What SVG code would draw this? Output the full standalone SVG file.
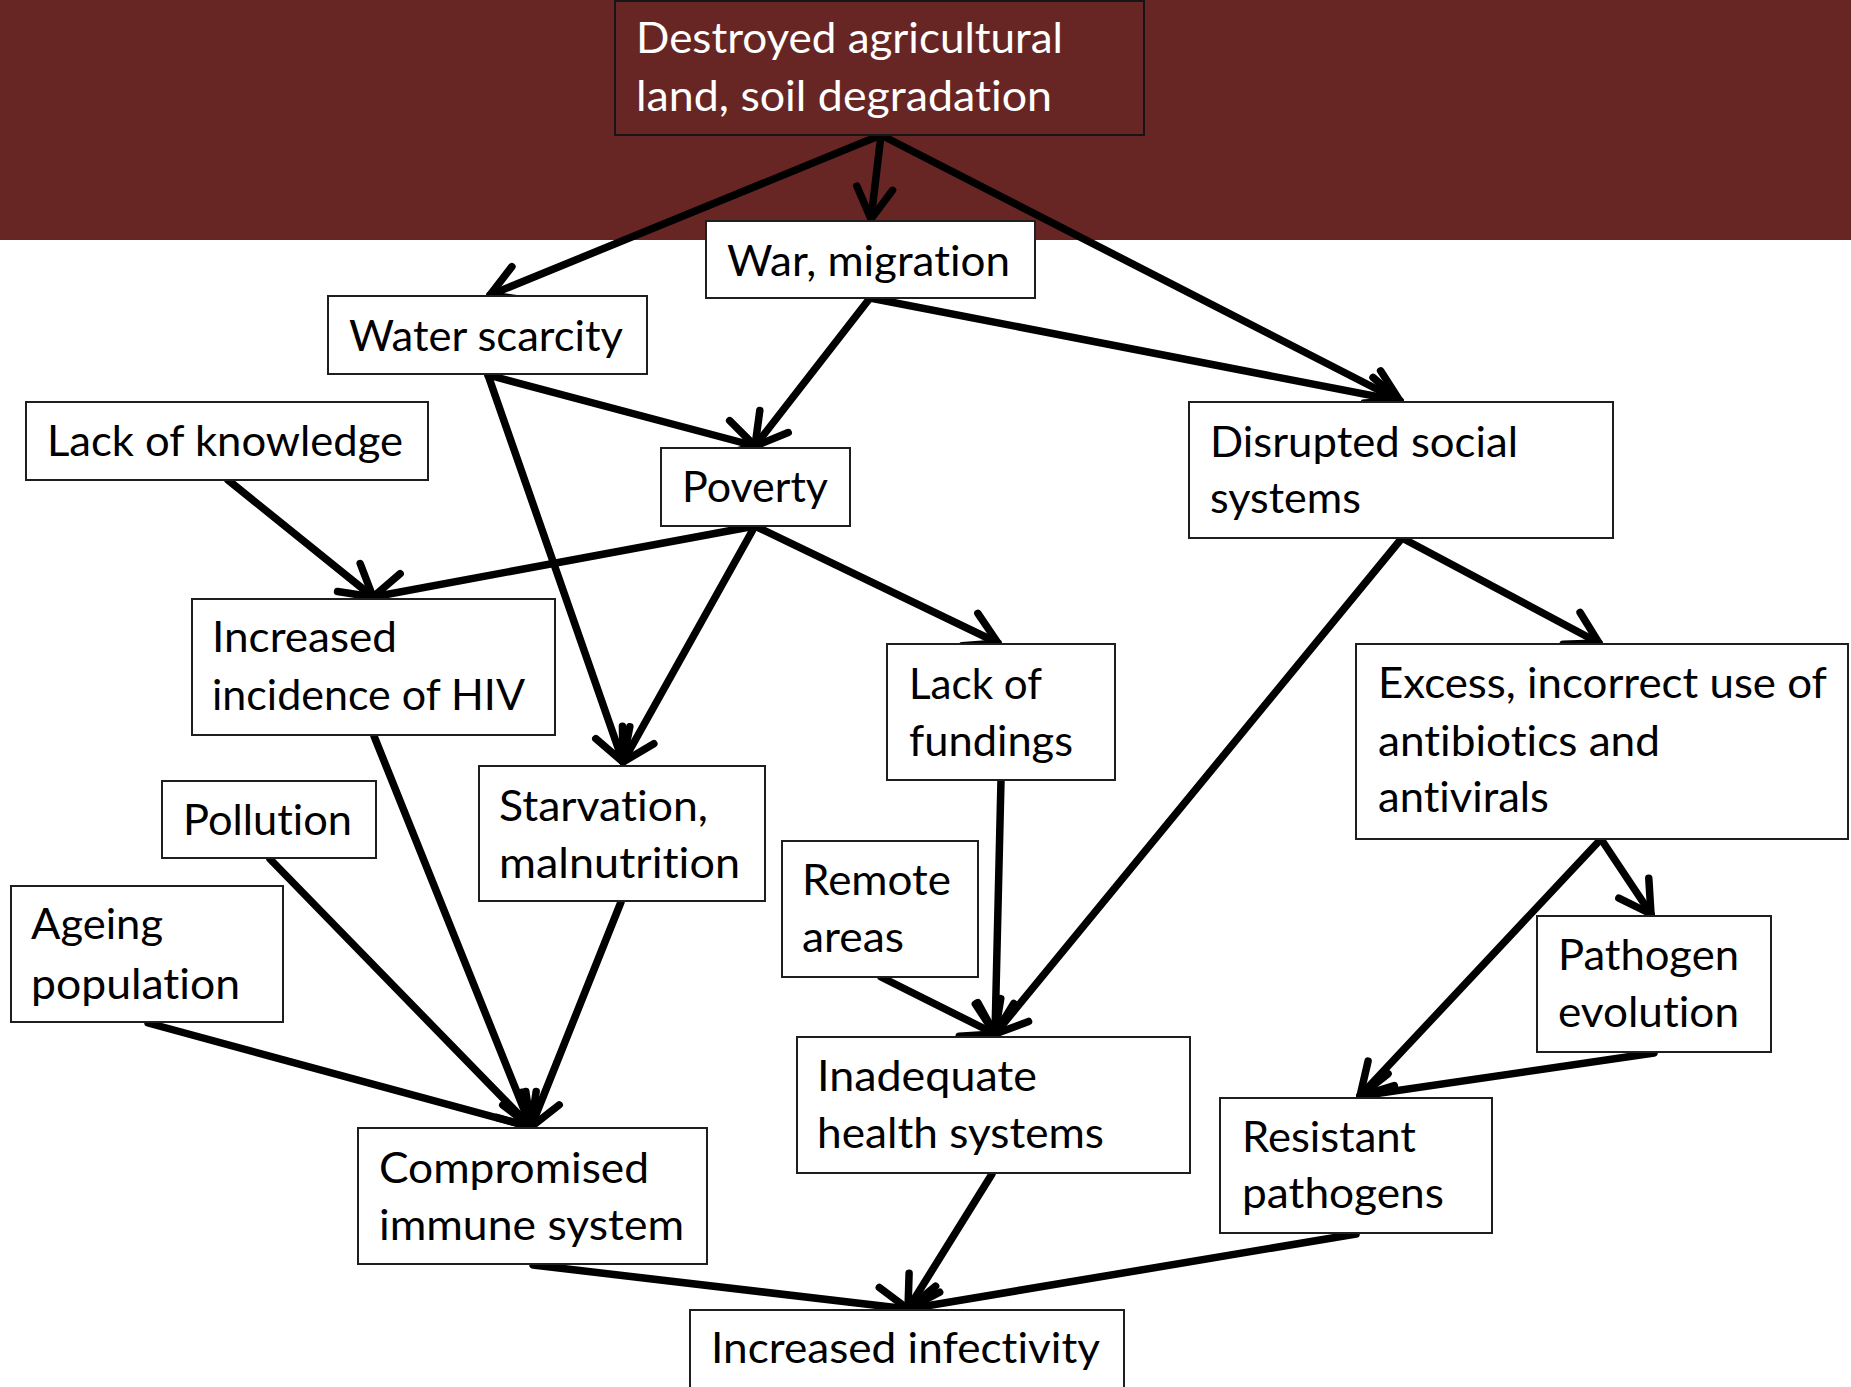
<svg xmlns="http://www.w3.org/2000/svg" width="1851" height="1387" viewBox="0 0 1851 1387">
  <style>
    .box { fill: #ffffff; stroke: #1e1e1e; stroke-width: 2; }
    .top { fill: #672624; stroke: #151515; stroke-width: 2; }
    .lbl { font-family: Lato, "Liberation Sans", sans-serif; font-size: 43px; fill: #000000; font-variant-ligatures: none; }
    .lbl-w { font-family: Lato, "Liberation Sans", sans-serif; font-size: 43px; fill: #ffffff; font-variant-ligatures: none; }
    .edge { fill: none; stroke: #000000; stroke-width: 7.5; stroke-linecap: round; marker-end: url(#head); }
  </style>
  <defs>
    <marker id="head" markerUnits="userSpaceOnUse" markerWidth="60" markerHeight="60" viewBox="-40 -30 50 60" refX="0" refY="0" orient="auto">
      <path d="M -31,-18 L 0,0 L -31,18" fill="none" stroke="#000000" stroke-width="7.5" stroke-linecap="round" stroke-linejoin="round"/>
    </marker>
  </defs>

  <!-- header band -->
  <rect x="0" y="0" width="1851" height="240" fill="#672624"/>

  <!-- connectors -->
  <g id="connectors">
    <line class="edge" x1="881" y1="135" x2="871" y2="219"/>
    <line class="edge" x1="881" y1="135" x2="490" y2="295"/>
    <line class="edge" x1="881" y1="135" x2="1400" y2="401"/>
    <line class="edge" x1="870" y1="298" x2="755" y2="446"/>
    <line class="edge" x1="870" y1="298" x2="1400" y2="401"/>
    <line class="edge" x1="488" y1="375" x2="755" y2="446"/>
    <line class="edge" x1="488" y1="375" x2="623" y2="762"/>
    <line class="edge" x1="228" y1="480" x2="373" y2="597"/>
    <line class="edge" x1="755" y1="526" x2="373" y2="597"/>
    <line class="edge" x1="755" y1="526" x2="623" y2="762"/>
    <line class="edge" x1="755" y1="526" x2="998" y2="643"/>
    <line class="edge" x1="1402" y1="538" x2="1599" y2="643"/>
    <line class="edge" x1="1402" y1="538" x2="995" y2="1034"/>
    <line class="edge" x1="1001" y1="780" x2="995" y2="1034"/>
    <line class="edge" x1="881" y1="977" x2="995" y2="1034"/>
    <line class="edge" x1="1601" y1="839" x2="1651" y2="914"/>
    <line class="edge" x1="1601" y1="839" x2="1360" y2="1096"/>
    <line class="edge" x1="1654" y1="1053" x2="1360" y2="1096"/>
    <line class="edge" x1="148" y1="1023" x2="531" y2="1127"/>
    <line class="edge" x1="270" y1="859" x2="531" y2="1127"/>
    <line class="edge" x1="374" y1="736" x2="531" y2="1127"/>
    <line class="edge" x1="621" y1="902" x2="531" y2="1127"/>
    <line class="edge" x1="533" y1="1265" x2="908" y2="1309"/>
    <line class="edge" x1="992" y1="1174" x2="908" y2="1309"/>
    <line class="edge" x1="1356" y1="1234" x2="908" y2="1309"/>
  </g>

  <!-- nodes -->
  <g id="n-destroyed">
    <rect class="top" x="615" y="1" width="529" height="134"/>
    <text class="lbl-w" x="636" y="53" textLength="427" lengthAdjust="spacingAndGlyphs">Destroyed agricultural</text>
    <text class="lbl-w" x="636" y="111" textLength="416" lengthAdjust="spacingAndGlyphs">land, soil degradation</text>
  </g>
  <g id="n-war">
    <rect class="box" x="706" y="221" width="329" height="77"/>
    <text class="lbl" x="727" y="276" textLength="283" lengthAdjust="spacingAndGlyphs">War, migration</text>
  </g>
  <g id="n-water">
    <rect class="box" x="328" y="296" width="319" height="78"/>
    <text class="lbl" x="349" y="351" textLength="274" lengthAdjust="spacingAndGlyphs">Water scarcity</text>
  </g>
  <g id="n-knowledge">
    <rect class="box" x="26" y="402" width="402" height="78"/>
    <text class="lbl" x="47" y="456" textLength="356" lengthAdjust="spacingAndGlyphs">Lack of knowledge</text>
  </g>
  <g id="n-poverty">
    <rect class="box" x="661" y="448" width="189" height="78"/>
    <text class="lbl" x="682" y="502" textLength="146" lengthAdjust="spacingAndGlyphs">Poverty</text>
  </g>
  <g id="n-disrupted">
    <rect class="box" x="1189" y="402" width="424" height="136"/>
    <text class="lbl" x="1210" y="457" textLength="308" lengthAdjust="spacingAndGlyphs">Disrupted social</text>
    <text class="lbl" x="1210" y="513" textLength="151" lengthAdjust="spacingAndGlyphs">systems</text>
  </g>
  <g id="n-hiv">
    <rect class="box" x="192" y="599" width="363" height="136"/>
    <text class="lbl" x="212" y="652" textLength="185" lengthAdjust="spacingAndGlyphs">Increased</text>
    <text class="lbl" x="212" y="710" textLength="313" lengthAdjust="spacingAndGlyphs">incidence of HIV</text>
  </g>
  <g id="n-fundings">
    <rect class="box" x="887" y="644" width="228" height="136"/>
    <text class="lbl" x="909" y="699" textLength="133" lengthAdjust="spacingAndGlyphs">Lack of</text>
    <text class="lbl" x="909" y="756" textLength="164" lengthAdjust="spacingAndGlyphs">fundings</text>
  </g>
  <g id="n-excess">
    <rect class="box" x="1356" y="644" width="492" height="195"/>
    <text class="lbl" x="1378" y="698" textLength="449" lengthAdjust="spacingAndGlyphs">Excess, incorrect use of</text>
    <text class="lbl" x="1378" y="756" textLength="282" lengthAdjust="spacingAndGlyphs">antibiotics and</text>
    <text class="lbl" x="1378" y="812" textLength="171" lengthAdjust="spacingAndGlyphs">antivirals</text>
  </g>
  <g id="n-starvation">
    <rect class="box" x="479" y="766" width="286" height="135"/>
    <text class="lbl" x="499" y="821" textLength="209" lengthAdjust="spacingAndGlyphs">Starvation,</text>
    <text class="lbl" x="499" y="878" textLength="241" lengthAdjust="spacingAndGlyphs">malnutrition</text>
  </g>
  <g id="n-pollution">
    <rect class="box" x="162" y="781" width="214" height="77"/>
    <text class="lbl" x="183" y="835" textLength="169" lengthAdjust="spacingAndGlyphs">Pollution</text>
  </g>
  <g id="n-remote">
    <rect class="box" x="782" y="841" width="196" height="136"/>
    <text class="lbl" x="802" y="895" textLength="149" lengthAdjust="spacingAndGlyphs">Remote</text>
    <text class="lbl" x="802" y="952" textLength="102" lengthAdjust="spacingAndGlyphs">areas</text>
  </g>
  <g id="n-ageing">
    <rect class="box" x="11" y="886" width="272" height="136"/>
    <text class="lbl" x="31" y="939" textLength="132" lengthAdjust="spacingAndGlyphs">Ageing</text>
    <text class="lbl" x="31" y="999" textLength="209" lengthAdjust="spacingAndGlyphs">population</text>
  </g>
  <g id="n-evolution">
    <rect class="box" x="1537" y="916" width="234" height="136"/>
    <text class="lbl" x="1558" y="970" textLength="181" lengthAdjust="spacingAndGlyphs">Pathogen</text>
    <text class="lbl" x="1558" y="1027" textLength="181" lengthAdjust="spacingAndGlyphs">evolution</text>
  </g>
  <g id="n-inadequate">
    <rect class="box" x="797" y="1037" width="393" height="136"/>
    <text class="lbl" x="817" y="1091" textLength="220" lengthAdjust="spacingAndGlyphs">Inadequate</text>
    <text class="lbl" x="817" y="1148" textLength="287" lengthAdjust="spacingAndGlyphs">health systems</text>
  </g>
  <g id="n-resistant">
    <rect class="box" x="1220" y="1098" width="272" height="135"/>
    <text class="lbl" x="1242" y="1152" textLength="174" lengthAdjust="spacingAndGlyphs">Resistant</text>
    <text class="lbl" x="1242" y="1208" textLength="202" lengthAdjust="spacingAndGlyphs">pathogens</text>
  </g>
  <g id="n-compromised">
    <rect class="box" x="358" y="1128" width="349" height="136"/>
    <text class="lbl" x="379" y="1183" textLength="270" lengthAdjust="spacingAndGlyphs">Compromised</text>
    <text class="lbl" x="379" y="1240" textLength="305" lengthAdjust="spacingAndGlyphs">immune system</text>
  </g>
  <g id="n-infectivity">
    <rect class="box" x="690" y="1310" width="434" height="80"/>
    <text class="lbl" x="711" y="1363" textLength="389" lengthAdjust="spacingAndGlyphs">Increased infectivity</text>
  </g>
</svg>
